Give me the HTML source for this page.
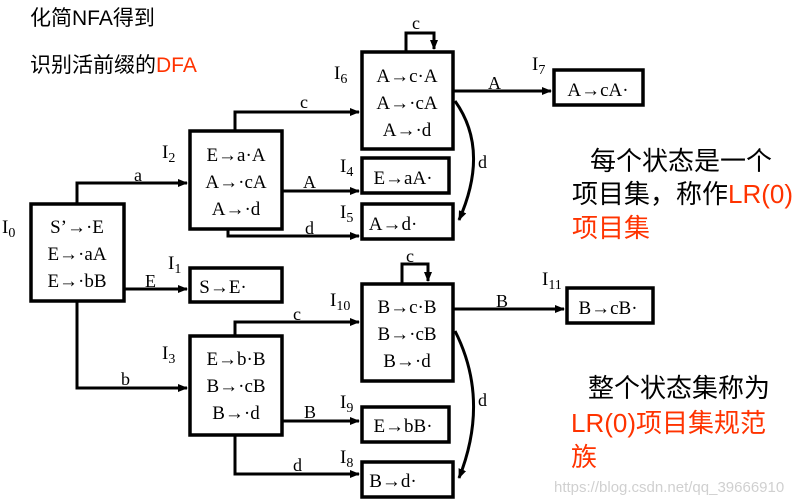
<!DOCTYPE html>
<html><head><meta charset="utf-8"><style>
html,body{margin:0;padding:0;background:#fff;width:806px;height:503px;overflow:hidden}
svg{display:block}
.t{font-family:"Liberation Serif",serif;font-size:19px;fill:#000}
.l{font-family:"Liberation Serif",serif;font-size:18px;fill:#000}
.cn{font-family:"Liberation Sans","Noto Sans CJK SC",sans-serif;font-size:26px}
.ti{font-family:"Liberation Sans","Noto Sans CJK SC",sans-serif;font-size:21px}
</style></head><body>
<svg width="806" height="503" viewBox="0 0 806 503" xmlns="http://www.w3.org/2000/svg">
<defs><marker id="ar" markerWidth="10" markerHeight="10" refX="9" refY="5" orient="auto" markerUnits="userSpaceOnUse"><path d="M0,1 L10,5 L0,9 z" fill="#000"/></marker></defs>
<g fill="none" stroke="#000" stroke-width="3.5">
<rect x="31" y="204" width="93" height="97"/>
<rect x="190" y="131" width="92" height="98"/>
<rect x="362" y="52" width="91" height="97"/>
<rect x="362" y="158" width="87" height="35"/>
<rect x="362" y="204" width="91" height="35"/>
<rect x="554" y="70" width="89" height="35"/>
<rect x="190" y="268" width="92" height="34"/>
<rect x="190" y="336" width="92" height="99"/>
<rect x="362" y="284" width="91" height="97"/>
<rect x="362" y="407" width="87" height="35"/>
<rect x="362" y="462" width="91" height="35"/>
<rect x="567" y="288" width="86" height="35"/>
</g>
<g fill="none" stroke="#000" stroke-width="3" marker-end="url(#ar)">
<path d="M77,204 V183 H187"/>
<path d="M235,131 V112 H359"/>
<path d="M282,191 H359"/>
<path d="M228,229 V236 H359"/>
<path d="M406,52 V33 H434 V49"/>
<path d="M453,91 H551"/>
<path d="M455,101 Q490,150 459,220"/>
<path d="M124,289 H187"/>
<path d="M77,301 V388 H187"/>
<path d="M235,336 V322 H359"/>
<path d="M282,421 H359"/>
<path d="M235,435 V474 H359"/>
<path d="M402,284 V264 H428 V281"/>
<path d="M453,309 H564"/>
<path d="M455,331 Q490,400 459,478"/>
</g>
<g class="t" text-anchor="middle">
<text x="77" y="233">S’→·E</text><text x="77" y="260">E→·aA</text><text x="77" y="287">E→·bB</text>
<text x="236" y="161">E→a·A</text><text x="236" y="188">A→·cA</text><text x="236" y="215">A→·d</text>
<text x="407" y="82">A→c·A</text><text x="407" y="109">A→·cA</text><text x="407" y="136">A→·d</text>
<text x="403" y="184">E→aA·</text><text x="393" y="230">A→d·</text>
<text x="598" y="96">A→cA·</text><text x="223" y="293">S→E·</text>
<text x="236" y="365">E→b·B</text><text x="236" y="392">B→·cB</text><text x="236" y="419">B→·d</text>
<text x="407" y="313">B→c·B</text><text x="407" y="340">B→·cB</text><text x="407" y="367">B→·d</text>
<text x="403" y="432">E→bB·</text><text x="393" y="487">B→d·</text>
<text x="608" y="314">B→cB·</text>
</g>
<g class="l">
<text x="134" y="181">a</text><text x="300" y="108">c</text><text x="303" y="188">A</text><text x="305" y="234">d</text>
<text x="412" y="29">c</text><text x="488" y="89">A</text><text x="478" y="168">d</text>
<text x="145" y="287">E</text><text x="121" y="385">b</text><text x="293" y="320">c</text><text x="304" y="418">B</text>
<text x="293" y="471">d</text><text x="406" y="262">c</text><text x="496" y="307">B</text><text x="478" y="406">d</text>
</g>
<g class="t">
<text x="2" y="233">I<tspan font-size="14" dy="4">0</tspan></text>
<text x="162" y="158">I<tspan font-size="14" dy="4">2</tspan></text>
<text x="334" y="79">I<tspan font-size="14" dy="4">6</tspan></text>
<text x="340" y="172">I<tspan font-size="14" dy="4">4</tspan></text>
<text x="340" y="218">I<tspan font-size="14" dy="4">5</tspan></text>
<text x="532" y="70">I<tspan font-size="14" dy="4">7</tspan></text>
<text x="168" y="269">I<tspan font-size="14" dy="4">1</tspan></text>
<text x="162" y="359">I<tspan font-size="14" dy="4">3</tspan></text>
<text x="330" y="306">I<tspan font-size="14" dy="4">10</tspan></text>
<text x="340" y="408">I<tspan font-size="14" dy="4">9</tspan></text>
<text x="340" y="463">I<tspan font-size="14" dy="4">8</tspan></text>
<text x="542" y="285">I<tspan font-size="14" dy="4">11</tspan></text>
</g>
<g class="ti">
<text x="30" y="25" fill="#000">化简NFA得到</text>
<text x="30" y="72" fill="#000">识别活前缀的<tspan fill="#ff3300">DFA</tspan></text>
</g>
<g class="cn">
<text x="590" y="170" fill="#000">每个状态是一个</text>
<text x="572" y="203" fill="#000">项目集，称作<tspan fill="#ff3300">LR(0)</tspan></text>
<text x="572" y="237" fill="#ff3300">项目集</text>
<text x="588" y="397" fill="#000">整个状态集称为</text>
<text x="571" y="432" fill="#ff3300">LR(0)项目集规范</text>
<text x="571" y="466" fill="#ff3300">族</text>
</g>
<text x="554" y="492" font-family="Liberation Sans,sans-serif" font-size="15" fill="#d0d0d0">https://blog.csdn.net/qq_39666910</text>
</svg>
</body></html>
